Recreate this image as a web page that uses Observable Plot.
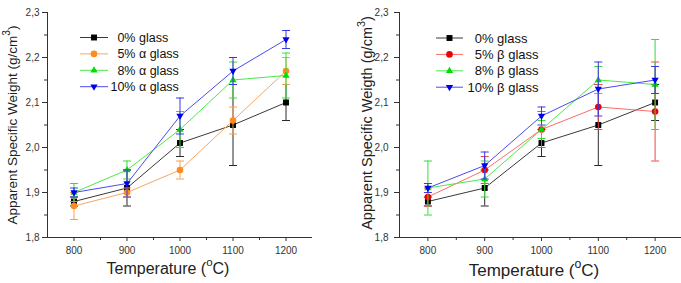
<!DOCTYPE html>
<html><head><meta charset="utf-8">
<script src="https://cdn.jsdelivr.net/npm/d3@7"></script>
<script src="https://cdn.jsdelivr.net/npm/@observablehq/plot@0.6"></script>
<style>
html,body{margin:0;padding:0;background:#fff;overflow:hidden;}
#wrap{display:flex;width:681px;height:283px;overflow:hidden;position:relative;background:#fff}
#wrap svg{flex:none;display:block}
</style></head><body><div id="wrap"></div>
<script>
// ---- data ----
const temperatures = [800, 900, 1000, 1100, 1200];
const xTicks = [800, 900, 1000, 1100, 1200];
const xMinorTicks = [850, 950, 1050, 1150];
const yTicks = [1.8, 1.9, 2.0, 2.1, 2.2, 2.3];
const yMinorTicks = [1.85, 1.95, 2.05, 2.15, 2.25];

const legendPct = ["0%", "5%", "8%", "10%"];
const alphaNames = ["glass", "\u03b1 glass", "\u03b1 glass", "\u03b1 glass"];
const betaNames = ["glass", "\u03b2 glass", "\u03b2 glass", "\u03b2 glass"];

const alpha0 = [1.88, 1.91, 2.01, 2.05, 2.10];
const alpha0Err = [0.01, 0.04, 0.03, 0.09, 0.04];
const alpha5 = [1.87, 1.90, 1.95, 2.06, 2.17];
const alpha5Err = [0.03, 0.01, 0.02, 0.03, 0.03];
const alpha8 = [1.90, 1.95, 2.04, 2.15, 2.16];
const alpha8Err = [0.02, 0.02, 0.04, 0.04, 0.05];
const alpha10 = [1.90, 1.92, 2.07, 2.17, 2.24];
const alpha10Err = [0.01, 0.03, 0.04, 0.03, 0.02];

const beta0 = [1.88, 1.91, 2.01, 2.05, 2.10];
const beta0Err = [0.01, 0.04, 0.03, 0.09, 0.04];
const beta5 = [1.89, 1.95, 2.04, 2.09, 2.08];
const beta5Err = [0.02, 0.03, 0.04, 0.05, 0.11];
const beta8 = [1.91, 1.93, 2.04, 2.15, 2.14];
const beta8Err = [0.06, 0.04, 0.02, 0.03, 0.10];
const beta10 = [1.91, 1.96, 2.07, 2.13, 2.15];
const beta10Err = [0.01, 0.03, 0.02, 0.06, 0.03];

// ---- styles ----
const triUp = {draw(ctx, size) { const r = Math.sqrt(size / Math.PI);
  ctx.moveTo(0, -1.2 * r); ctx.lineTo(1.1 * r, 0.7 * r); ctx.lineTo(-1.1 * r, 0.7 * r); ctx.closePath(); }};
const triDown = {draw(ctx, size) { const r = Math.sqrt(size / Math.PI);
  ctx.moveTo(0, 1.2 * r); ctx.lineTo(1.1 * r, -0.7 * r); ctx.lineTo(-1.1 * r, -0.7 * r); ctx.closePath(); }};
const squareSym = {draw(ctx, size) { const r = Math.sqrt(size / Math.PI) * 0.9;
  ctx.rect(-r, -r, 2 * r, 2 * r); }};
const circleSym = {draw(ctx, size) { const r = Math.sqrt(size / Math.PI);
  ctx.moveTo(r, 0); ctx.arc(0, 0, r, 0, 2 * Math.PI); }};
const capSym = {draw(ctx) { ctx.moveTo(-4, 0); ctx.lineTo(4, 0); }};

const styleBlack = {marker: "#000000", line: "#3a3a3a", err: "#2a2a2a", symbol: squareSym};
const styleOrange = {marker: "#ff8a1e", line: "#f3a865", err: "#f2a052", symbol: circleSym};
const styleRed = {marker: "#f00000", line: "#ff6a6a", err: "#f04848", symbol: circleSym};
const styleGreen = {marker: "#00dd00", line: "#4ae84a", err: "#38dd38", symbol: triUp};
const styleBlue = {marker: "#0000ee", line: "#4a4aef", err: "#3838e8", symbol: triDown};

const FONT = "'Liberation Sans', Arial, Helvetica, sans-serif";

function makeChart(cfg) {
  const marks = [];
  cfg.series.forEach((s) => {
    const rows = temperatures.map((t, i) => ({t, v: s.values[i], e: s.errors[i]}));
    marks.push(Plot.line(rows, {x: "t", y: "v", stroke: s.style.line, strokeWidth: 1}));
    marks.push(Plot.ruleX(rows, {x: "t", y1: d => d.v - d.e, y2: d => d.v + d.e, stroke: s.style.err, strokeWidth: 1}));
    marks.push(Plot.dot(rows, {x: "t", y: d => d.v - d.e, symbol: capSym, r: 4, stroke: s.style.err, strokeWidth: 1, fill: "none"}));
    marks.push(Plot.dot(rows, {x: "t", y: d => d.v + d.e, symbol: capSym, r: 4, stroke: s.style.err, strokeWidth: 1, fill: "none"}));
    marks.push(Plot.dot(rows, {x: "t", y: "v", symbol: s.style.symbol, r: 3.3, fill: s.style.marker, stroke: "none"}));
  });
  const svg = Plot.plot({
    width: cfg.width, height: 283,
    marginLeft: cfg.marginLeft, marginRight: cfg.marginRight, marginTop: 12, marginBottom: 46,
    style: {fontFamily: FONT, fontSize: cfg.tickFont + "px", color: "#333", background: "transparent", overflow: "visible"},
    x: {domain: [750, 1250], label: null},
    y: {domain: [1.8, 2.3], label: null},
    marks: [
      Plot.ruleY([1.8], {stroke: "#333", strokeWidth: 1}),
      Plot.ruleX([750], {stroke: "#333", strokeWidth: 1}),
      Plot.axisX(xTicks, {tickSize: 4, tickPadding: 5, fontSize: cfg.tickFont, label: null, stroke: "#333",
        tickFormat: d => String(d)}),
      Plot.axisX(xMinorTicks, {tickSize: 3, tickFormat: () => "", label: null, stroke: "#333"}),
      Plot.axisY(yTicks, {tickSize: 5, tickPadding: cfg.yPad, fontSize: cfg.tickFont, label: null, stroke: "#333",
        tickFormat: d => d.toFixed(1).replace(".", ",")}),
      Plot.axisY(yMinorTicks, {tickSize: 3, tickFormat: () => "", label: null, stroke: "#333"}),
      ...marks
    ]
  });
  const root = d3.select(svg);
  // legend
  const lg = root.append("g");
  cfg.series.forEach((s, i) => {
    const y = cfg.legend.y0 + cfg.legend.dy * i;
    lg.append("line").attr("x1", cfg.legend.x1).attr("x2", cfg.legend.x2).attr("y1", y).attr("y2", y)
      .attr("stroke", s.style.line).attr("stroke-width", 1);
    lg.append("path").attr("d", d3.symbol(s.style.symbol, Math.PI * 3.3 * 3.3)())
      .attr("transform", `translate(${(cfg.legend.x1 + cfg.legend.x2) / 2},${y})`).attr("fill", s.style.marker);
    lg.append("text").attr("x", cfg.legend.pctEnd).attr("y", y).attr("dy", "0.35em")
      .attr("text-anchor", "end").attr("font-size", cfg.legend.font).attr("fill", "#111").attr("font-family", FONT).text(s.pct);
    lg.append("text").attr("x", cfg.legend.pctEnd).attr("y", y).attr("dy", "0.35em")
      .attr("text-anchor", "start").attr("font-size", cfg.legend.font).attr("fill", "#111").attr("font-family", FONT)
      .text("\u00a0" + s.name);
  });
  // y label
  const yl = root.append("text").attr("transform", `translate(${cfg.yLabel.x},${cfg.yLabel.y}) rotate(-90)`)
    .attr("text-anchor", "middle").attr("font-size", cfg.yLabel.font).attr("fill", "#222").attr("font-family", FONT);
  yl.append("tspan").text(cfg.yLabel.text);
  yl.append("tspan").attr("dy", -cfg.yLabel.font * 0.45).attr("font-size", cfg.yLabel.font * 0.75).text("3");
  yl.append("tspan").attr("dy", cfg.yLabel.font * 0.45).text(")");
  // x label
  const xl = root.append("text").attr("x", cfg.xLabel.x).attr("y", cfg.xLabel.y)
    .attr("text-anchor", "middle").attr("font-size", cfg.xLabel.font).attr("fill", "#222").attr("font-family", FONT);
  xl.append("tspan").text("Temperature (");
  xl.append("tspan").attr("dy", -cfg.xLabel.font * 0.45).attr("font-size", cfg.xLabel.font * 0.72).text("o");
  xl.append("tspan").attr("dy", cfg.xLabel.font * 0.45).text("C)");
  return svg;
}

const left = makeChart({
  width: 340, marginLeft: 47, marginRight: 28, tickFont: 10, yPad: 3,
  series: [
    {pct: legendPct[0], name: alphaNames[0], values: alpha0, errors: alpha0Err, style: styleBlack},
    {pct: legendPct[1], name: alphaNames[1], values: alpha5, errors: alpha5Err, style: styleOrange},
    {pct: legendPct[2], name: alphaNames[2], values: alpha8, errors: alpha8Err, style: styleGreen},
    {pct: legendPct[3], name: alphaNames[3], values: alpha10, errors: alpha10Err, style: styleBlue}
  ],
  legend: {x1: 80, x2: 108, y0: 37.5, dy: 16.4, pctEnd: 135.5, font: 12.5},
  yLabel: {x: 16.5, y: 125, font: 13.5, text: "Apparent Specific Weight (g/cm"},
  xLabel: {x: 168, y: 273.5, font: 16}
});
const right = makeChart({
  width: 343, marginLeft: 59, marginRight: 0, tickFont: 10, yPad: 6,
  series: [
    {pct: legendPct[0], name: betaNames[0], values: beta0, errors: beta0Err, style: styleBlack},
    {pct: legendPct[1], name: betaNames[1], values: beta5, errors: beta5Err, style: styleRed},
    {pct: legendPct[2], name: betaNames[2], values: beta8, errors: beta8Err, style: styleGreen},
    {pct: legendPct[3], name: betaNames[3], values: beta10, errors: beta10Err, style: styleBlue}
  ],
  legend: {x1: 96, x2: 123, y0: 38, dy: 16.4, pctEnd: 153.5, font: 13},
  yLabel: {x: 31.5, y: 123, font: 14.5, text: "Apparent Specific Weigth (g/cm"},
  xLabel: {x: 194, y: 275.5, font: 17}
});
document.getElementById("wrap").append(left, right);
</script>
</body></html>
